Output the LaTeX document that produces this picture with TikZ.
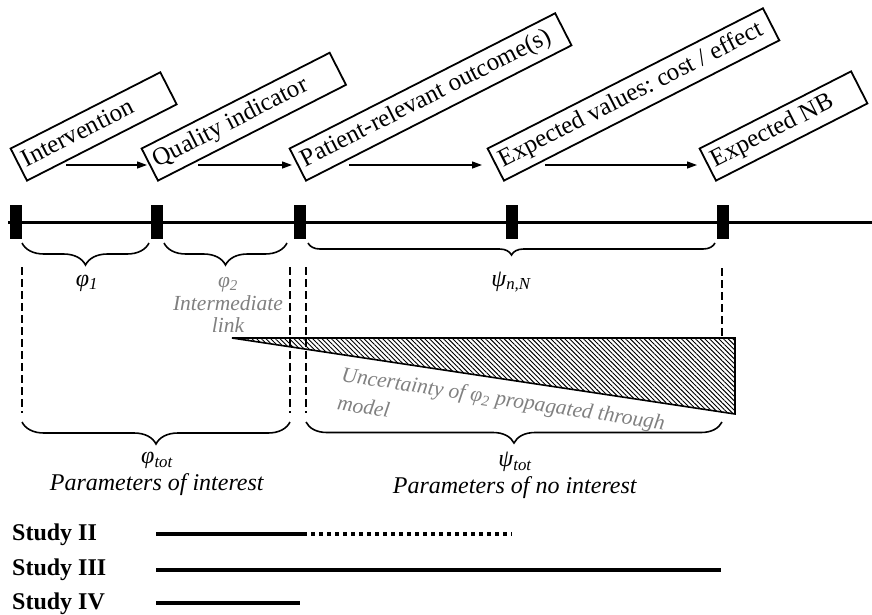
\documentclass[tikz,border=0pt]{standalone}
\usepackage{fontspec}
\setmainfont{Liberation Serif}
\usetikzlibrary{arrows.meta,decorations.pathreplacing,patterns.meta}
\definecolor{linkgray}{RGB}{128,128,128}
\newcommand{\phisym}[1]{\textit{φ\textsubscript{#1}}}
\newcommand{\psisym}[1]{\textit{ψ\textsubscript{#1}}}
\newcommand{\stagetext}[2]{\makebox[#1][l]{#2}}
\frenchspacing

\begin{document}
\begin{tikzpicture}[x=1pt,y=1pt,
  stage/.style={draw, line width=1.8pt, rotate=27, anchor=west, inner xsep=6pt, inner ysep=6pt,
    text height=18pt, text depth=6pt, font=\fontsize{25}{30}\selectfont},
  flow/.style={line width=1.3pt, -{Triangle[length=10pt,width=7pt]}},
  tick/.style={fill=black, inner sep=0pt, minimum width=12pt, minimum height=34pt},
  brc/.style={decorate, decoration={brace, amplitude=#1}, line width=1.6pt},
  guide/.style={line width=1.6pt, dash pattern=on 8pt off 4pt},
  lbl/.style={font=\fontsize{24}{27}\selectfont, align=center, inner sep=0pt},
  note/.style={text=linkgray, font=\fontsize{21.5}{22.5}\selectfont\itshape, align=center, inner sep=0pt},
  bar/.style={line width=3.5pt},
  study/.style={anchor=base west, inner sep=0pt, font=\fontsize{24}{24}\selectfont\bfseries}]
\useasboundingbox (0,0) rectangle (872,-614);

\node[stage] (intv) at (18,-165) {\stagetext{156pt}{Intervention}};
\node[stage] (qual) at (149,-165) {\stagetext{199pt}{Quality indicator}};
\node[stage] (pat) at (297,-165) {\stagetext{286pt}{Patient-relevant outcome(s)}};
\node[stage] (expv) at (495,-165) {\stagetext{297pt}{Expected values: cost / effect}};
\node[stage] (nb) at (707,-165) {\stagetext{158pt}{Expected NB}};
\draw[flow] ([xshift=48pt]intv.west) -- ([xshift=-2pt]qual.west);
\draw[flow] ([xshift=49pt]qual.west) -- ([xshift=-5pt]pat.west);
\draw[flow] ([xshift=52pt]pat.west) -- ([xshift=-13pt]expv.west);
\draw[flow] ([xshift=50pt]expv.west) -- ([xshift=-10pt]nb.west);

\draw[line width=3pt] (8,-222) -- (872,-222);
\foreach \x/\n in {16/t1,157/t2,300/t3,512/t4,723/t5}
  \node[tick] (\n) at (\x,-222) {};

\draw[brc=22pt] (149,-243) -- (22,-243);
\draw[brc=22pt] (287,-243) -- (164,-243);
\draw[brc=12pt] (715,-243) -- (308,-243);
\node[lbl] (phione) at (87,-283) {\phisym{1}};
\node[note] (phitwo) at (228,-305) {\phisym{2}\\Intermediate\\link};
\node[lbl] (psinN) at (511,-282) {\psisym{n,N}};

\draw[guide] (722,-268) -- (722,-413);
\draw[line width=1.6pt, preaction={fill=white},
  pattern={Lines[angle=-45,distance=3.3pt,line width=0.9pt]}]
  (232,-338) -- (735,-338) -- (735,-414) -- cycle;
\draw[guide] (22,-267) -- (22,-413);
\draw[guide] (290,-267) -- (290,-413);
\draw[guide] (306,-267) -- (306,-413);
\node[note, rotate=-8.6, anchor=north west, align=left, font=\fontsize{21.5}{29}\selectfont\itshape]
  (spread) at (343,-366) {Uncertainty of \phisym{2} propagated through\\model};

\draw[brc=22pt] (290,-422) -- (22,-422);
\draw[brc=21pt] (722,-422) -- (306,-422);
\node[lbl, anchor=north] (phitot) at (157,-452) {\phisym{tot}\\\textit{Parameters of interest}};
\node[lbl, anchor=north] (psitot) at (515,-452) {\psisym{tot}\\\textit{Parameters of no interest}};

\node[study] (s2) at (12,-540) {Study II};
\node[study] (s3) at (12,-575) {Study III};
\node[study] (s4) at (12,-609) {Study IV};
\draw[bar] (156,-534) -- (303,-534);
\draw[bar, dash pattern=on 3.5pt off 4.5pt] (303,-534) -- (512,-534);
\draw[bar] (156,-570) -- (721,-570);
\draw[bar] (156,-603) -- (300,-603);
\end{tikzpicture}
\end{document}
